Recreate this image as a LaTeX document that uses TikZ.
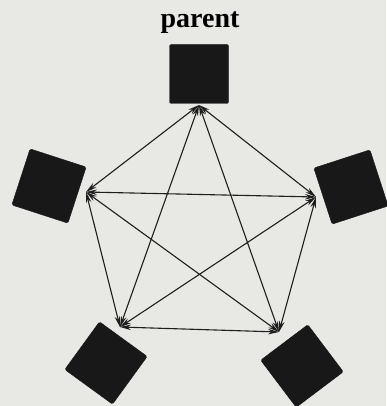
\documentclass[tikz,border=0pt]{standalone}
\usepackage{fontspec}
\setmainfont{Liberation Serif}
\usetikzlibrary{arrows.meta}
\definecolor{bg}{RGB}{232,232,228}
\definecolor{sq}{RGB}{24,24,24}
\definecolor{ln}{RGB}{30,30,30}
\tikzset{
  x=1pt,y=-1pt,
  proc/.style={draw=sq,fill=sq,minimum size=59pt,inner sep=0pt,rounded corners=1.5pt},
  link/.style={draw=ln,line width=1.1pt,{Stealth[length=11pt,width=5.5pt]}-{Stealth[length=11pt,width=5.5pt]}}
}
\begin{document}
\begin{tikzpicture}
\fill[bg] (0,0) rectangle (386,406);
\useasboundingbox (0,0) rectangle (386,406);
\node[font=\bfseries\fontsize{28}{30}\selectfont,anchor=base] (lab) at (200,28) {parent};
\node[proc] (p) at (199,74) {};
\node[proc,rotate=-18] (l) at (49,186) {};
\node[proc,rotate=18] (r) at (351,187) {};
\node[proc,rotate=-36] (bl) at (106,363) {};
\node[proc,rotate=37] (br) at (302,366) {};
\coordinate (hp) at (199,105);
\coordinate (hl) at (86,192);
\coordinate (hr) at (316,197);
\coordinate (hbl) at (120,327);
\coordinate (hbr) at (279,332);
\foreach \a/\b in {hp/hl,hp/hr,hp/hbl,hp/hbr,hl/hr,hl/hbl,hl/hbr,hr/hbl,hr/hbr,hbl/hbr}
  \draw[link] (\a) -- (\b);
\end{tikzpicture}
\end{document}
